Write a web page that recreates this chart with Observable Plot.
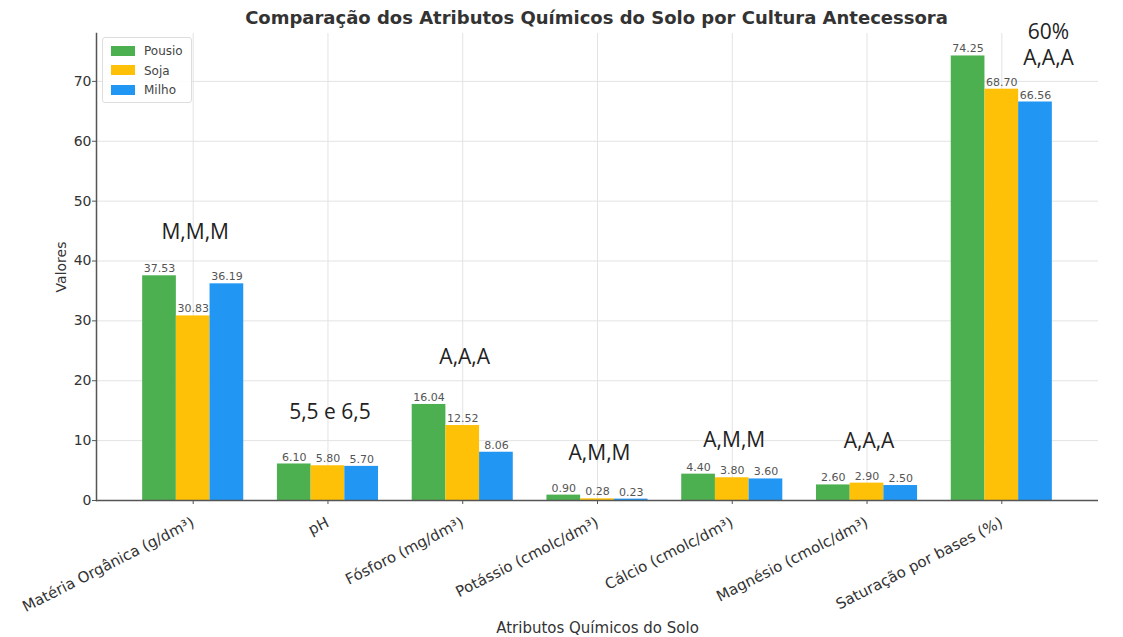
<!DOCTYPE html>
<html>
<head>
<meta charset="utf-8">
<script src="https://cdn.jsdelivr.net/npm/d3@7"></script>
<script src="https://cdn.jsdelivr.net/npm/@observablehq/plot@0.6"></script>
<style>
  body { margin: 0; background: #fff; font-family: "DejaVu Sans", sans-serif; }
  #wrap { position: relative; width: 1123px; height: 637px; overflow: hidden; }
  #title { height: 20px; padding-top: 8px; line-height: 20px; text-align: center; font-weight: bold; font-size: 18px; color: #333; padding-left: 70px; }
  #chart svg { overflow: visible; }
  #legend { position: absolute; left: 102px; top: 37px; width: 88px; height: 64px; border: 1px solid #ddd; border-radius: 3px; background: rgba(255,255,255,0.85); font-size: 12px; color: #444; }
  .item { position: absolute; left: 8px; height: 14px; line-height: 14px; }
  .sw { display: inline-block; width: 24px; height: 10px; vertical-align: middle; margin-right: 9px; margin-top: -2px; }
</style>
</head>
<body>
<div id="wrap">
  <div id="title">Comparação dos Atributos Químicos do Solo por Cultura Antecessora</div>
  <div id="chart"></div>
  <div id="legend"></div>
</div>
<script>
const categorias = ["Matéria Orgânica (g/dm³)", "pH", "Fósforo (mg/dm³)", "Potássio (cmolc/dm³)", "Cálcio (cmolc/dm³)", "Magnésio (cmolc/dm³)", "Saturação por bases (%)"];
const culturas = ["Pousio", "Soja", "Milho"];
const cores = ["#4CAF50", "#FFC107", "#2196F3"];
const pousio = [37.53, 6.10, 16.04, 0.90, 4.40, 2.60, 74.25];
const soja = [30.83, 5.80, 12.52, 0.28, 3.80, 2.90, 68.70];
const milho = [36.19, 5.70, 8.06, 0.23, 3.60, 2.50, 66.56];
const yTicks = [0, 10, 20, 30, 40, 50, 60, 70];
// anotações de interpretação (texto, categoria, valor no eixo y)
const anotTexto = ["M,M,M", "5,5 e 6,5", "A,A,A", "A,M,M", "A,M,M", "A,A,A"];
const anotY = [44.8, 14.7, 23.9, 7.85, 10.0, 9.86];
const anotSatTexto = ["60%", "A,A,A"];
const anotSatY = [78.2, 73.8];

const series = [pousio, soja, milho];
const key = (c, s) => c + "|" + s;
const dominioX = [];
categorias.forEach((c, i) => {
  culturas.forEach(s => dominioX.push(key(c, s)));
  if (i < categorias.length - 1) dominioX.push(key(c, "espaço"));
});
const dados = [];
categorias.forEach((c, i) => culturas.forEach((s, j) => dados.push({categoria: c, cultura: s, valor: series[j][i], k: key(c, s)})));
const anot = anotTexto.map((t, i) => ({texto: t, k: key(categorias[i], "Soja"), y: anotY[i]}));
const anotSat = anotSatTexto.map((t, i) => ({texto: t, k: key(categorias[6], "Milho"), y: anotSatY[i]}));
const centros = categorias.map(c => key(c, "Soja"));

const plot = Plot.plot({
  width: 1123,
  height: 609,
  marginLeft: 96,
  marginRight: 25,
  marginTop: 5,
  marginBottom: 137,
  style: {fontFamily: "DejaVu Sans, sans-serif", fontSize: "13px", color: "#333", background: "#fff"},
  x: {domain: dominioX, paddingInner: 0, paddingOuter: 1.37, round: false, label: null},
  y: {domain: [0, 78], label: null},
  color: {domain: culturas, range: cores},
  marks: [
    Plot.gridY(yTicks.filter(d => d > 0), {stroke: "#e3e3e3", strokeOpacity: 1, strokeWidth: 1}),
    Plot.gridX(centros, {stroke: "#e3e3e3", strokeOpacity: 1, strokeWidth: 1}),
    Plot.barY(dados, {x: "k", y: "valor", fill: "cultura", inset: 0}),
    Plot.text(dados, {x: "k", y: "valor", text: d => d.valor.toFixed(2), dy: -7, fontSize: 11, fill: "#555"}),
    Plot.text(anot, {x: "k", y: "y", text: "texto", dx: 2, fontSize: 21, fill: "#222", fontFamily: "Open Sans, sans-serif"}),
    Plot.text(anotSat, {x: "k", y: "y", text: "texto", dx: 13, fontSize: 21, fill: "#222", fontFamily: "Open Sans, sans-serif"}),
    Plot.axisY({ticks: yTicks, tickSize: 4, tickPadding: 1, fontSize: 14, stroke: "#555", label: "Valores", labelArrow: "none", labelAnchor: "center", labelOffset: 40}),
    Plot.axisX({ticks: centros, tickFormat: k => k.split("|")[0], tickSize: 4, tickPadding: 17, tickRotate: -27, fontSize: 15, stroke: "#555", label: "Atributos Químicos do Solo", labelArrow: "none", labelAnchor: "center", labelOffset: 132}),
    Plot.frame({anchor: "left", stroke: "#555", strokeWidth: 1.5}),
    Plot.ruleY([0], {stroke: "#555", strokeWidth: 1.5})
  ]
});
document.getElementById("chart").appendChild(plot);

const leg = document.getElementById("legend");
culturas.forEach((s, i) => {
  const d = document.createElement("div");
  d.className = "item";
  d.style.top = (6 + i * 19.5) + "px";
  d.innerHTML = `<span class="sw" style="background:${cores[i]}"></span>${s}`;
  leg.appendChild(d);
});
</script>
</body>
</html>
